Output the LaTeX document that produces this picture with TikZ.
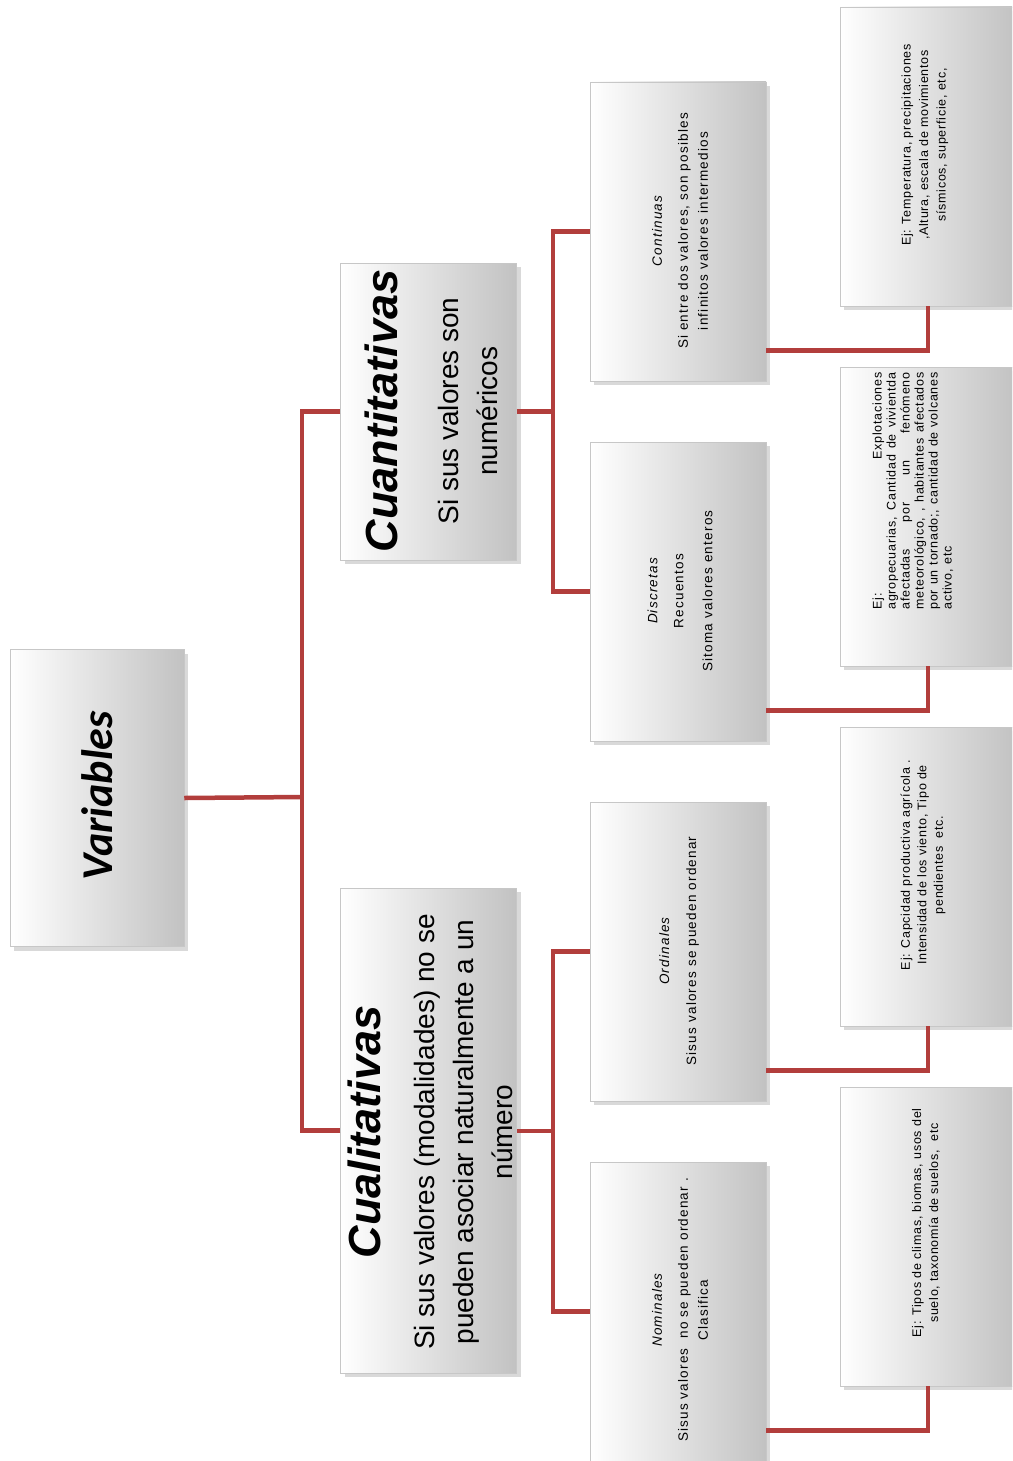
\documentclass[tikz,border=0pt]{standalone}
\usepackage{fontspec}
\setmainfont{Liberation Sans}
\newfontfamily\smallf[LetterSpace=9]{Liberation Sans}
\newfontfamily\ejf[LetterSpace=6]{Liberation Sans}
\newfontfamily\varf{Carlito}
\usetikzlibrary{shadows}
\definecolor{linkred}{RGB}{178,62,60}
\begin{document}
\begin{tikzpicture}[x=1pt,y=-1pt,
  box/.style={draw=black!22, line width=0.5pt, left color=white, middle color=white, right color=black!24,
    drop shadow={shadow xshift=4pt, shadow yshift=-4pt, opacity=0.3},
    minimum width=176pt, minimum height=299pt, inner sep=0pt},
  conn/.style={draw=linkred, line width=4.5pt},
  txt/.style={rotate=90, align=center, inner sep=0pt}]
\useasboundingbox (0,0) rectangle (1012,1461);
\clip (0,0) rectangle (1012,1461);

% boxes
\node[box, minimum width=174pt, minimum height=297pt] (var) at (97,798) {};
\node[box, minimum height=297pt] (cuant) at (428.5,411.5) {};
\node[box, minimum height=485pt] (cual) at (428.5,1130.5) {};
\node[box] (cont) at (678,231.5) {};
\node[box] (disc) at (678,591.5) {};
\node[box] (ord) at (678,951.5) {};
\node[box] (nom) at (678,1311.5) {};
\node[box] (ej1) at (928,156.5) {};
\node[box] (ej2) at (928,516.5) {};
\node[box] (ej3) at (928,876.5) {};
\node[box] (ej4) at (928,1236.5) {};

% junctions
\coordinate (j1) at (302,797);
\coordinate (j2) at (553,411.5);
\coordinate (j3) at (553,1131);

% connectors
\draw[conn] (var.east) -- (j1);
\draw[conn] (cuant.west) -| (j1);
\draw[conn] (cual.west) -| (j1);
\draw[conn] (cuant.east) -- (j2);
\draw[conn] (cont.west) -| (j2);
\draw[conn] (disc.west) -| (j2);
\draw[conn] (cual.east |- j3) -- (j3);
\draw[conn] (ord.west) -| (j3);
\draw[conn] (nom.west) -| (j3);
\draw[conn] ([yshift=31pt]cont.south east) -| (ej1.south);
\draw[conn] ([yshift=31pt]disc.south east) -| (ej2.south);
\draw[conn] ([yshift=31pt]ord.south east) -| (ej3.south);
\draw[conn] ([yshift=31pt]nom.south east) -| (ej4.south);

% texts
\node[txt, font=\fontsize{44}{50}\varf\bfseries\itshape] (var-t) at (97,796) {Variables};
\node[txt, font=\fontsize{28}{39}\selectfont] (cuant-t) at (431,411)
  {{\fontsize{45}{50}\selectfont\bfseries\itshape Cuantitativas}\\[22pt]Si sus valores son\\numéricos};
\node[txt, font=\fontsize{28}{39}\selectfont] (cual-t) at (430,1132)
  {{\fontsize{45}{50}\selectfont\bfseries\itshape Cualitativas}\\[15pt]Si sus valores (modalidades) no se\\pueden asociar naturalmente a un\\número};

\node[txt, font=\fontsize{13.5}{20}\smallf] (cont-t) at (680,231)
  {{\itshape Continuas}\\[6pt]Si entre dos valores, son posibles\\infinitos valores intermedios};
\node[txt, font=\fontsize{13.5}{20}\smallf] (disc-t) at (680,591)
  {{\itshape Discretas}\\[6pt]Recuentos\\[9pt]Sitoma valores enteros};
\node[txt, font=\fontsize{13.5}{20}\smallf] (ord-t) at (679,951)
  {{\itshape Ordinales}\\[7pt]Sisus valores se pueden ordenar};
\node[txt, font=\fontsize{13.5}{20}\smallf] (nom-t) at (680,1310)
  {{\itshape Nominales}\\[6pt]Sisus valores\ \ no se pueden ordenar .\\Clasifica};

\node[txt, font=\fontsize{12.5}{17.5}\ejf] (ej1-t) at (925,145)
  {Ej: Temperatura, precipitaciones\\,Altura, escala de movimientos\\sísmicos, superficie, etc,};
\node[txt, align=left, font=\fontsize{12.5}{14}\ejf] (ej2-t) at (913,491)
  {\makebox[237pt][s]{Ej: Explotaciones}\\
   \makebox[237pt][s]{agropecuarias, Cantidad de vivientda}\\
   \makebox[237pt][s]{afectadas por un fenómeno}\\
   \makebox[237pt][s]{meteorológico, , habitantes afectados}\\
   \makebox[237pt][s]{por un tornado;, cantidad de volcanes}\\
   \makebox[237pt][l]{activo, etc}};
\node[txt, font=\fontsize{12.5}{16.5}\ejf] (ej3-t) at (923,865)
  {Ej: Capcidad productiva agrícola .\\Intensidad de los viento, Tipo de\\pendientes\ \ etc.};
\node[txt, font=\fontsize{12.5}{17}\ejf] (ej4-t) at (926,1223)
  {Ej: Tipos de climas, biomas, usos del\\suelo, taxonomía de suelos,\ \ etc};
\end{tikzpicture}
\end{document}
